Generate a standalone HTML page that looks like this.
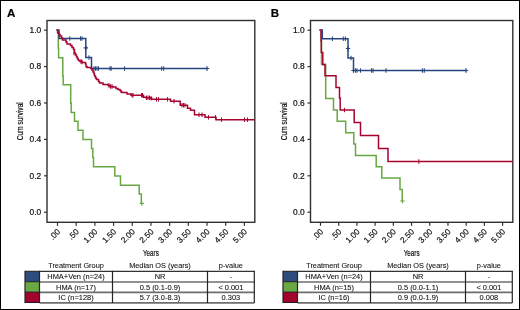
<!DOCTYPE html>
<html><head><meta charset="utf-8"><style>
html,body{margin:0;padding:0;background:#fff;}
body{width:520px;height:310px;overflow:hidden;}
svg{will-change:transform;display:block;font-family:"Liberation Sans",sans-serif;}
text{stroke:#111;stroke-width:0.2px;}
.t{stroke-width:0.22px;}
.tb{stroke-width:0.08px;}
</style></head><body>
<svg width="520" height="310" viewBox="0 0 520 310">
<rect x="0.5" y="0.5" width="519" height="309" fill="#fff" stroke="#000" stroke-width="1"/>
<text x="7" y="17.2" font-size="11.5" font-weight="bold" fill="#000">A</text>
<text x="270.8" y="17.2" font-size="11.5" font-weight="bold" fill="#000">B</text>
<rect x="47.00" y="20.50" width="207.80" height="201.80" fill="none" stroke="#303030" stroke-width="1.4"/>
<path d="M44.00,212.20 H47.00" stroke="#303030" stroke-width="1.2"/>
<text x="41.20" y="214.90" text-anchor="end" font-size="8.4" fill="#111">0.0</text>
<path d="M44.00,175.80 H47.00" stroke="#303030" stroke-width="1.2"/>
<text x="41.20" y="178.50" text-anchor="end" font-size="8.4" fill="#111">0.2</text>
<path d="M44.00,139.40 H47.00" stroke="#303030" stroke-width="1.2"/>
<text x="41.20" y="142.10" text-anchor="end" font-size="8.4" fill="#111">0.4</text>
<path d="M44.00,103.00 H47.00" stroke="#303030" stroke-width="1.2"/>
<text x="41.20" y="105.70" text-anchor="end" font-size="8.4" fill="#111">0.6</text>
<path d="M44.00,66.60 H47.00" stroke="#303030" stroke-width="1.2"/>
<text x="41.20" y="69.30" text-anchor="end" font-size="8.4" fill="#111">0.8</text>
<path d="M44.00,30.20 H47.00" stroke="#303030" stroke-width="1.2"/>
<text x="41.20" y="32.90" text-anchor="end" font-size="8.4" fill="#111">1.0</text>
<path d="M57.50,222.30 V225.80" stroke="#303030" stroke-width="1.2"/>
<text x="60.70" y="232.30" text-anchor="end" font-size="8.2" fill="#111" transform="rotate(-45 60.70 232.30)">.00</text>
<path d="M76.19,222.30 V225.80" stroke="#303030" stroke-width="1.2"/>
<text x="79.39" y="232.30" text-anchor="end" font-size="8.2" fill="#111" transform="rotate(-45 79.39 232.30)">.50</text>
<path d="M94.88,222.30 V225.80" stroke="#303030" stroke-width="1.2"/>
<text x="98.08" y="232.30" text-anchor="end" font-size="8.2" fill="#111" transform="rotate(-45 98.08 232.30)">1.00</text>
<path d="M113.57,222.30 V225.80" stroke="#303030" stroke-width="1.2"/>
<text x="116.77" y="232.30" text-anchor="end" font-size="8.2" fill="#111" transform="rotate(-45 116.77 232.30)">1.50</text>
<path d="M132.26,222.30 V225.80" stroke="#303030" stroke-width="1.2"/>
<text x="135.46" y="232.30" text-anchor="end" font-size="8.2" fill="#111" transform="rotate(-45 135.46 232.30)">2.00</text>
<path d="M150.95,222.30 V225.80" stroke="#303030" stroke-width="1.2"/>
<text x="154.15" y="232.30" text-anchor="end" font-size="8.2" fill="#111" transform="rotate(-45 154.15 232.30)">2.50</text>
<path d="M169.64,222.30 V225.80" stroke="#303030" stroke-width="1.2"/>
<text x="172.84" y="232.30" text-anchor="end" font-size="8.2" fill="#111" transform="rotate(-45 172.84 232.30)">3.00</text>
<path d="M188.33,222.30 V225.80" stroke="#303030" stroke-width="1.2"/>
<text x="191.53" y="232.30" text-anchor="end" font-size="8.2" fill="#111" transform="rotate(-45 191.53 232.30)">3.50</text>
<path d="M207.02,222.30 V225.80" stroke="#303030" stroke-width="1.2"/>
<text x="210.22" y="232.30" text-anchor="end" font-size="8.2" fill="#111" transform="rotate(-45 210.22 232.30)">4.00</text>
<path d="M225.71,222.30 V225.80" stroke="#303030" stroke-width="1.2"/>
<text x="228.91" y="232.30" text-anchor="end" font-size="8.2" fill="#111" transform="rotate(-45 228.91 232.30)">4.50</text>
<path d="M244.40,222.30 V225.80" stroke="#303030" stroke-width="1.2"/>
<text x="247.60" y="232.30" text-anchor="end" font-size="8.2" fill="#111" transform="rotate(-45 247.60 232.30)">5.00</text>
<text x="0" y="0" text-anchor="middle" font-size="9.7" class="t" fill="#111" transform="translate(150.90 256.3) scale(0.645 1)">Years</text>
<text x="0" y="0" text-anchor="middle" font-size="9" class="t" fill="#111" transform="translate(23.00 121.3) rotate(-90) scale(0.735 1)">Cum survival</text>
<path d="M58.30,30.00 V48.50 H58.60 V57.80 H62.80 V76.30 H63.20 V84.80 H70.70 V103.00 H71.20 V112.50 H74.50 V121.20 H78.00 V130.20 H83.00 V139.50 H91.50 V148.50 H92.80 V157.50 H93.50 V166.80 H114.80 V176.00 H120.50 V185.20 H139.20 V194.00 H141.30 V203.50" stroke="#67a843" stroke-width="1.50" fill="none" stroke-linejoin="miter" stroke-linecap="butt"/>
<path d="M57.50,30.00 H59.00 V38.50 H85.80 V57.50 H91.50 V68.50 H207.20" stroke="#27467f" stroke-width="1.50" fill="none" stroke-linejoin="miter" stroke-linecap="butt"/>
<path d="M56.20,30.00 H57.60 V33.00 H59.00 V34.50 H60.00 V36.00 H61.50 V38.00 H62.50 V40.00 H66.00 V42.00 H67.00 V44.00 H70.50 V45.50 H72.00 V47.50 H73.50 V49.50 H74.50 V53.00 H75.50 V55.00 H76.50 V57.00 H77.50 V59.00 H78.50 V60.50 H80.00 V61.50 H82.00 V62.50 H85.50 V64.00 H86.00 V66.50 H87.00 V67.50 H91.00 V68.50 H92.00 V70.00 H93.00 V72.00 H94.00 V74.00 H94.50 V76.00 H95.50 V78.00 H96.50 V79.50 H98.50 V81.50 H99.50 V83.00 H103.00 V84.50 H108.00 V85.50 H110.00 V86.50 H113.00 V87.00 H116.00 V88.50 H118.00 V89.50 H120.00 V90.50 H121.00 V92.00 H122.00 V92.50 H127.00 V94.00 H131.00 V95.20 H143.50 V97.30 H146.00 V97.80 H151.50 V99.30 H170.50 V101.30 H180.20 V105.20 H187.50 V108.30 H190.50 V110.30 H194.50 V114.80 H205.00 V117.30 H216.00 V119.70 H254.50" stroke="#a6042f" stroke-width="1.50" fill="none" stroke-linejoin="miter" stroke-linecap="butt"/>
<path d="M69.80,36.30 V40.70" stroke="#27467f" stroke-width="1.05" fill="none"/>
<path d="M80.50,36.30 V40.70" stroke="#27467f" stroke-width="1.05" fill="none"/>
<path d="M82.00,36.30 V40.70" stroke="#27467f" stroke-width="1.05" fill="none"/>
<path d="M89.00,55.30 V59.70" stroke="#27467f" stroke-width="1.05" fill="none"/>
<path d="M94.00,66.30 V70.70" stroke="#27467f" stroke-width="1.05" fill="none"/>
<path d="M95.50,66.30 V70.70" stroke="#27467f" stroke-width="1.05" fill="none"/>
<path d="M97.00,66.30 V70.70" stroke="#27467f" stroke-width="1.05" fill="none"/>
<path d="M98.50,66.30 V70.70" stroke="#27467f" stroke-width="1.05" fill="none"/>
<path d="M110.00,66.30 V70.70" stroke="#27467f" stroke-width="1.05" fill="none"/>
<path d="M111.20,66.30 V70.70" stroke="#27467f" stroke-width="1.05" fill="none"/>
<path d="M124.50,66.30 V70.70" stroke="#27467f" stroke-width="1.05" fill="none"/>
<path d="M161.70,66.30 V70.70" stroke="#27467f" stroke-width="1.05" fill="none"/>
<path d="M163.70,66.30 V70.70" stroke="#27467f" stroke-width="1.05" fill="none"/>
<path d="M74.00,50.80 V55.20" stroke="#a6042f" stroke-width="1.05" fill="none"/>
<path d="M81.00,59.30 V63.70" stroke="#a6042f" stroke-width="1.05" fill="none"/>
<path d="M82.00,59.80 V64.20" stroke="#a6042f" stroke-width="1.05" fill="none"/>
<path d="M109.00,83.30 V87.70" stroke="#a6042f" stroke-width="1.05" fill="none"/>
<path d="M110.50,84.30 V88.70" stroke="#a6042f" stroke-width="1.05" fill="none"/>
<path d="M112.00,84.30 V88.70" stroke="#a6042f" stroke-width="1.05" fill="none"/>
<path d="M132.00,93.00 V97.40" stroke="#a6042f" stroke-width="1.05" fill="none"/>
<path d="M133.00,93.00 V97.40" stroke="#a6042f" stroke-width="1.05" fill="none"/>
<path d="M141.50,93.00 V97.40" stroke="#a6042f" stroke-width="1.05" fill="none"/>
<path d="M142.50,93.00 V97.40" stroke="#a6042f" stroke-width="1.05" fill="none"/>
<path d="M146.50,95.60 V100.00" stroke="#a6042f" stroke-width="1.05" fill="none"/>
<path d="M148.00,95.60 V100.00" stroke="#a6042f" stroke-width="1.05" fill="none"/>
<path d="M149.50,95.60 V100.00" stroke="#a6042f" stroke-width="1.05" fill="none"/>
<path d="M151.00,96.10 V100.50" stroke="#a6042f" stroke-width="1.05" fill="none"/>
<path d="M156.50,97.10 V101.50" stroke="#a6042f" stroke-width="1.05" fill="none"/>
<path d="M158.50,97.10 V101.50" stroke="#a6042f" stroke-width="1.05" fill="none"/>
<path d="M167.50,97.10 V101.50" stroke="#a6042f" stroke-width="1.05" fill="none"/>
<path d="M174.00,99.10 V103.50" stroke="#a6042f" stroke-width="1.05" fill="none"/>
<path d="M182.00,103.00 V107.40" stroke="#a6042f" stroke-width="1.05" fill="none"/>
<path d="M183.50,103.00 V107.40" stroke="#a6042f" stroke-width="1.05" fill="none"/>
<path d="M185.00,103.00 V107.40" stroke="#a6042f" stroke-width="1.05" fill="none"/>
<path d="M199.00,112.60 V117.00" stroke="#a6042f" stroke-width="1.05" fill="none"/>
<path d="M202.00,112.60 V117.00" stroke="#a6042f" stroke-width="1.05" fill="none"/>
<path d="M208.50,115.10 V119.50" stroke="#a6042f" stroke-width="1.05" fill="none"/>
<path d="M215.50,115.10 V119.50" stroke="#a6042f" stroke-width="1.05" fill="none"/>
<path d="M221.50,117.50 V121.90" stroke="#a6042f" stroke-width="1.05" fill="none"/>
<path d="M244.50,117.50 V121.90" stroke="#a6042f" stroke-width="1.05" fill="none"/>
<path d="M247.50,117.50 V121.90" stroke="#a6042f" stroke-width="1.05" fill="none"/>
<path d="M85.80,45.60 V50.00 M83.60,47.80 H88.00" stroke="#27467f" stroke-width="1.2" fill="none"/>
<path d="M207.00,66.30 V70.70 M204.80,68.50 H209.20" stroke="#27467f" stroke-width="1.2" fill="none"/>
<path d="M141.80,201.30 V205.70 M139.60,203.50 H144.00" stroke="#67a843" stroke-width="1.2" fill="none"/>

<rect x="310.50" y="20.50" width="202.30" height="201.80" fill="none" stroke="#303030" stroke-width="1.4"/>
<path d="M307.50,212.20 H310.50" stroke="#303030" stroke-width="1.2"/>
<text x="304.70" y="214.90" text-anchor="end" font-size="8.4" fill="#111">0.0</text>
<path d="M307.50,175.80 H310.50" stroke="#303030" stroke-width="1.2"/>
<text x="304.70" y="178.50" text-anchor="end" font-size="8.4" fill="#111">0.2</text>
<path d="M307.50,139.40 H310.50" stroke="#303030" stroke-width="1.2"/>
<text x="304.70" y="142.10" text-anchor="end" font-size="8.4" fill="#111">0.4</text>
<path d="M307.50,103.00 H310.50" stroke="#303030" stroke-width="1.2"/>
<text x="304.70" y="105.70" text-anchor="end" font-size="8.4" fill="#111">0.6</text>
<path d="M307.50,66.60 H310.50" stroke="#303030" stroke-width="1.2"/>
<text x="304.70" y="69.30" text-anchor="end" font-size="8.4" fill="#111">0.8</text>
<path d="M307.50,30.20 H310.50" stroke="#303030" stroke-width="1.2"/>
<text x="304.70" y="32.90" text-anchor="end" font-size="8.4" fill="#111">1.0</text>
<path d="M320.50,222.30 V225.80" stroke="#303030" stroke-width="1.2"/>
<text x="323.70" y="232.30" text-anchor="end" font-size="8.2" fill="#111" transform="rotate(-45 323.70 232.30)">.00</text>
<path d="M338.71,222.30 V225.80" stroke="#303030" stroke-width="1.2"/>
<text x="341.91" y="232.30" text-anchor="end" font-size="8.2" fill="#111" transform="rotate(-45 341.91 232.30)">.50</text>
<path d="M356.92,222.30 V225.80" stroke="#303030" stroke-width="1.2"/>
<text x="360.12" y="232.30" text-anchor="end" font-size="8.2" fill="#111" transform="rotate(-45 360.12 232.30)">1.00</text>
<path d="M375.13,222.30 V225.80" stroke="#303030" stroke-width="1.2"/>
<text x="378.33" y="232.30" text-anchor="end" font-size="8.2" fill="#111" transform="rotate(-45 378.33 232.30)">1.50</text>
<path d="M393.34,222.30 V225.80" stroke="#303030" stroke-width="1.2"/>
<text x="396.54" y="232.30" text-anchor="end" font-size="8.2" fill="#111" transform="rotate(-45 396.54 232.30)">2.00</text>
<path d="M411.55,222.30 V225.80" stroke="#303030" stroke-width="1.2"/>
<text x="414.75" y="232.30" text-anchor="end" font-size="8.2" fill="#111" transform="rotate(-45 414.75 232.30)">2.50</text>
<path d="M429.76,222.30 V225.80" stroke="#303030" stroke-width="1.2"/>
<text x="432.96" y="232.30" text-anchor="end" font-size="8.2" fill="#111" transform="rotate(-45 432.96 232.30)">3.00</text>
<path d="M447.97,222.30 V225.80" stroke="#303030" stroke-width="1.2"/>
<text x="451.17" y="232.30" text-anchor="end" font-size="8.2" fill="#111" transform="rotate(-45 451.17 232.30)">3.50</text>
<path d="M466.18,222.30 V225.80" stroke="#303030" stroke-width="1.2"/>
<text x="469.38" y="232.30" text-anchor="end" font-size="8.2" fill="#111" transform="rotate(-45 469.38 232.30)">4.00</text>
<path d="M484.39,222.30 V225.80" stroke="#303030" stroke-width="1.2"/>
<text x="487.59" y="232.30" text-anchor="end" font-size="8.2" fill="#111" transform="rotate(-45 487.59 232.30)">4.50</text>
<path d="M502.60,222.30 V225.80" stroke="#303030" stroke-width="1.2"/>
<text x="505.80" y="232.30" text-anchor="end" font-size="8.2" fill="#111" transform="rotate(-45 505.80 232.30)">5.00</text>
<text x="0" y="0" text-anchor="middle" font-size="9.7" class="t" fill="#111" transform="translate(411.65 256.3) scale(0.645 1)">Years</text>
<text x="0" y="0" text-anchor="middle" font-size="9" class="t" fill="#111" transform="translate(287.00 121.3) rotate(-90) scale(0.735 1)">Cum survival</text>
<path d="M321.50,30.00 V64.50 H325.70 V98.50 H333.50 V110.00 H337.20 V121.20 H345.70 V132.80 H353.80 V144.00 H355.50 V155.50 H376.20 V166.80 H381.80 V178.00 H400.00 V189.50 H402.20 V201.00" stroke="#67a843" stroke-width="1.50" fill="none" stroke-linejoin="miter" stroke-linecap="butt"/>
<path d="M320.80,30.00 H322.30 V38.70 H348.00 V58.00 H353.50 V70.50 H466.50" stroke="#27467f" stroke-width="1.50" fill="none" stroke-linejoin="miter" stroke-linecap="butt"/>
<path d="M319.20,30.00 H321.00 V41.00 H321.30 V52.50 H322.80 V64.50 H325.00 V75.80 H336.00 V87.50 H339.50 V98.00 H340.20 V110.00 H354.20 V122.50 H360.50 V135.50 H378.50 V148.50 H388.00 V161.50 H512.50" stroke="#a6042f" stroke-width="1.50" fill="none" stroke-linejoin="miter" stroke-linecap="butt"/>
<path d="M332.40,36.50 V40.90" stroke="#27467f" stroke-width="1.05" fill="none"/>
<path d="M343.30,36.50 V40.90" stroke="#27467f" stroke-width="1.05" fill="none"/>
<path d="M345.40,36.50 V40.90" stroke="#27467f" stroke-width="1.05" fill="none"/>
<path d="M351.00,55.80 V60.20" stroke="#27467f" stroke-width="1.05" fill="none"/>
<path d="M355.50,68.30 V72.70" stroke="#27467f" stroke-width="1.05" fill="none"/>
<path d="M357.00,68.30 V72.70" stroke="#27467f" stroke-width="1.05" fill="none"/>
<path d="M360.50,68.30 V72.70" stroke="#27467f" stroke-width="1.05" fill="none"/>
<path d="M371.50,68.30 V72.70" stroke="#27467f" stroke-width="1.05" fill="none"/>
<path d="M373.00,68.30 V72.70" stroke="#27467f" stroke-width="1.05" fill="none"/>
<path d="M386.00,68.30 V72.70" stroke="#27467f" stroke-width="1.05" fill="none"/>
<path d="M422.40,68.30 V72.70" stroke="#27467f" stroke-width="1.05" fill="none"/>
<path d="M424.30,68.30 V72.70" stroke="#27467f" stroke-width="1.05" fill="none"/>
<path d="M344.50,107.80 V112.20" stroke="#a6042f" stroke-width="1.05" fill="none"/>
<path d="M418.80,159.30 V163.70" stroke="#a6042f" stroke-width="1.05" fill="none"/>
<path d="M348.00,46.30 V50.70 M345.80,48.50 H350.20" stroke="#27467f" stroke-width="1.2" fill="none"/>
<path d="M353.50,68.30 V72.70 M351.30,70.50 H355.70" stroke="#27467f" stroke-width="1.2" fill="none"/>
<path d="M466.00,68.30 V72.70 M463.80,70.50 H468.20" stroke="#27467f" stroke-width="1.2" fill="none"/>
<path d="M402.50,198.80 V203.20 M400.30,201.00 H404.70" stroke="#67a843" stroke-width="1.2" fill="none"/>

<text x="76.00" y="268.1" text-anchor="middle" font-size="7.35" class="tb" fill="#111">Treatment Group</text>
<text x="160.00" y="268.1" text-anchor="middle" font-size="7.35" class="tb" fill="#111">Median OS (years)</text>
<text x="230.90" y="268.1" text-anchor="middle" font-size="7.35" class="tb" fill="#111">p-value</text>
<rect x="25.00" y="271.30" width="14.50" height="10.40" fill="#2e4c7e"/>
<text x="76.00" y="279.10" text-anchor="middle" font-size="7.45" class="tb" fill="#111">HMA+Ven (n=24)</text>
<text x="160.00" y="279.10" text-anchor="middle" font-size="7.45" class="tb" fill="#111">NR</text>
<text x="230.90" y="279.10" text-anchor="middle" font-size="7.45" class="tb" fill="#111">-</text>
<rect x="25.00" y="281.70" width="14.50" height="10.40" fill="#6aa745"/>
<text x="76.00" y="289.50" text-anchor="middle" font-size="7.45" class="tb" fill="#111">HMA (n=17)</text>
<text x="160.00" y="289.50" text-anchor="middle" font-size="7.45" class="tb" fill="#111">0.5 (0.1-0.9)</text>
<text x="230.90" y="289.50" text-anchor="middle" font-size="7.45" class="tb" fill="#111">&lt; 0.001</text>
<rect x="25.00" y="292.10" width="14.50" height="10.40" fill="#a2022c"/>
<text x="76.00" y="299.90" text-anchor="middle" font-size="7.45" class="tb" fill="#111">IC (n=128)</text>
<text x="160.00" y="299.90" text-anchor="middle" font-size="7.45" class="tb" fill="#111">5.7 (3.0-8.3)</text>
<text x="230.90" y="299.90" text-anchor="middle" font-size="7.45" class="tb" fill="#111">0.303</text>
<path d="M25.00,271.30 H254.30" stroke="#333" stroke-width="1.2"/>
<path d="M39.50,282.00 H254.30" stroke="#6e6e6e" stroke-width="1.7"/>
<path d="M25.00,281.70 H39.50" stroke="#1c1c24" stroke-width="1.0"/>
<path d="M39.50,292.40 H254.30" stroke="#6e6e6e" stroke-width="1.7"/>
<path d="M25.00,292.10 H39.50" stroke="#1c1c24" stroke-width="1.0"/>
<path d="M39.50,302.80 H254.30" stroke="#6e6e6e" stroke-width="1.7"/>
<path d="M25.00,302.50 H39.50" stroke="#1c1c24" stroke-width="1.0"/>
<path d="M25.00,270.80 V303.00" stroke="#252525" stroke-width="1.2"/>
<path d="M39.50,270.80 V303.00" stroke="#252525" stroke-width="1.2"/>
<path d="M112.50,270.80 V303.00" stroke="#252525" stroke-width="1.2"/>
<path d="M207.50,270.80 V303.00" stroke="#252525" stroke-width="1.2"/>
<path d="M254.30,270.80 V303.00" stroke="#252525" stroke-width="1.2"/>
<text x="334.00" y="268.1" text-anchor="middle" font-size="7.35" class="tb" fill="#111">Treatment Group</text>
<text x="418.00" y="268.1" text-anchor="middle" font-size="7.35" class="tb" fill="#111">Median OS (years)</text>
<text x="488.90" y="268.1" text-anchor="middle" font-size="7.35" class="tb" fill="#111">p-value</text>
<rect x="283.00" y="271.30" width="14.50" height="10.40" fill="#2e4c7e"/>
<text x="334.00" y="279.10" text-anchor="middle" font-size="7.45" class="tb" fill="#111">HMA+Ven (n=24)</text>
<text x="418.00" y="279.10" text-anchor="middle" font-size="7.45" class="tb" fill="#111">NR</text>
<text x="488.90" y="279.10" text-anchor="middle" font-size="7.45" class="tb" fill="#111">-</text>
<rect x="283.00" y="281.70" width="14.50" height="10.40" fill="#6aa745"/>
<text x="334.00" y="289.50" text-anchor="middle" font-size="7.45" class="tb" fill="#111">HMA (n=15)</text>
<text x="418.00" y="289.50" text-anchor="middle" font-size="7.45" class="tb" fill="#111">0.5 (0.0-1.1)</text>
<text x="488.90" y="289.50" text-anchor="middle" font-size="7.45" class="tb" fill="#111">&lt; 0.001</text>
<rect x="283.00" y="292.10" width="14.50" height="10.40" fill="#a2022c"/>
<text x="334.00" y="299.90" text-anchor="middle" font-size="7.45" class="tb" fill="#111">IC (n=16)</text>
<text x="418.00" y="299.90" text-anchor="middle" font-size="7.45" class="tb" fill="#111">0.9 (0.0-1.9)</text>
<text x="488.90" y="299.90" text-anchor="middle" font-size="7.45" class="tb" fill="#111">0.008</text>
<path d="M283.00,271.30 H512.30" stroke="#333" stroke-width="1.2"/>
<path d="M297.50,282.00 H512.30" stroke="#6e6e6e" stroke-width="1.7"/>
<path d="M283.00,281.70 H297.50" stroke="#1c1c24" stroke-width="1.0"/>
<path d="M297.50,292.40 H512.30" stroke="#6e6e6e" stroke-width="1.7"/>
<path d="M283.00,292.10 H297.50" stroke="#1c1c24" stroke-width="1.0"/>
<path d="M297.50,302.80 H512.30" stroke="#6e6e6e" stroke-width="1.7"/>
<path d="M283.00,302.50 H297.50" stroke="#1c1c24" stroke-width="1.0"/>
<path d="M283.00,270.80 V303.00" stroke="#252525" stroke-width="1.2"/>
<path d="M297.50,270.80 V303.00" stroke="#252525" stroke-width="1.2"/>
<path d="M370.50,270.80 V303.00" stroke="#252525" stroke-width="1.2"/>
<path d="M465.50,270.80 V303.00" stroke="#252525" stroke-width="1.2"/>
<path d="M512.30,270.80 V303.00" stroke="#252525" stroke-width="1.2"/>
</svg>
</body></html>
